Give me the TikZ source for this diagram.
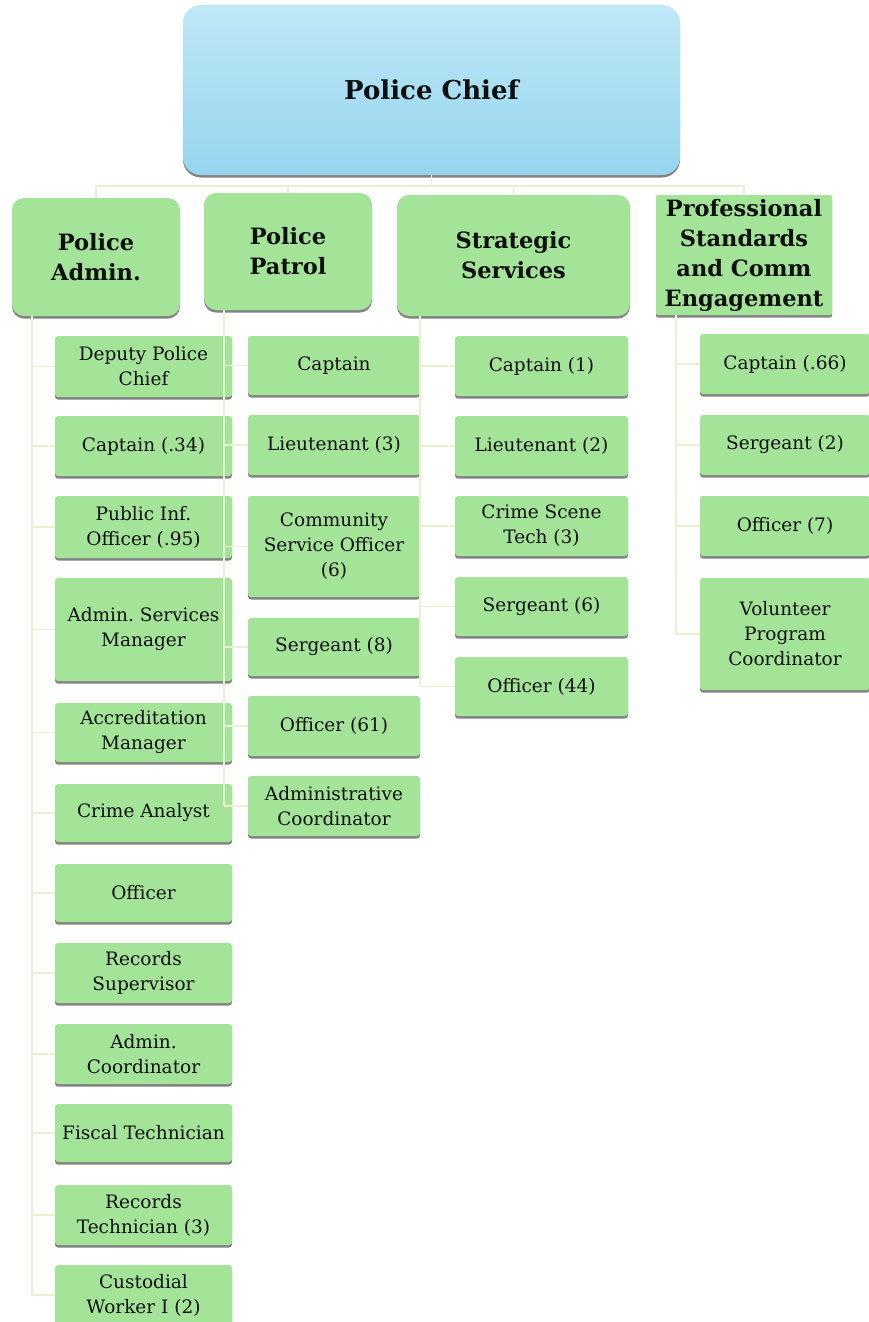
\documentclass[tikz,border=0pt]{standalone}
\usepackage{fontspec}
\setmainfont{DejaVu Serif}
\frenchspacing
\usetikzlibrary{shadows}
\definecolor{boxgreen}{RGB}{163,228,152}
\definecolor{chieftop}{RGB}{190,232,246}
\definecolor{chiefbot}{RGB}{150,212,238}
\definecolor{linkgreen}{RGB}{232,241,208}
\definecolor{inkc}{RGB}{15,15,15}
\tikzset{
  x=1pt, y=-1pt,
  shade/.style={drop shadow={shadow xshift=0pt, shadow yshift=-2.5pt, fill=black!65, opacity=.75}},
  chiefbox/.style={shade, top color=chieftop, bottom color=chiefbot, rounded corners=18pt,
    minimum width=497pt, minimum height=170pt, text=inkc,
    font=\bfseries\fontsize{26}{30}\selectfont},
  headbox/.style={shade, fill=boxgreen, rounded corners=12pt, align=center, text=inkc,
    inner sep=0pt, font=\bfseries\fontsize{22.5}{30}\selectfont},
  rolebox/.style={shade, fill=boxgreen, rounded corners=3pt, align=center, text=inkc,
    inner sep=0pt, font=\fontsize{18.5}{25}\selectfont},
  link/.style={draw=linkgreen, line width=1.3pt},
}
\begin{document}
\begin{tikzpicture}
\useasboundingbox (0,0) rectangle (868,1322);

% top of the chart
\node[chiefbox] (chief) at (431.5,90) {Police Chief};

% division heads
\node[headbox, minimum width=168pt, minimum height=118pt] (adm) at (96,257) {Police\\Admin.};
\node[headbox, minimum width=168pt, minimum height=117pt] (pat) at (288,251.5) {Police\\Patrol};
\node[headbox, minimum width=233pt, minimum height=121pt] (str) at (513.5,255.5) {Strategic\\Services};
\node[headbox, rounded corners=2pt, minimum width=176pt, minimum height=120pt] (pro) at (744,255)
  {Professional\\Standards\\and Comm\\Engagement};

% Police Admin. units
\begin{scope}[every node/.style={rolebox, minimum width=177pt}]
\node[minimum height=61pt] (a1) at (143.5,366.5) {Deputy Police\\Chief};
\node[minimum height=60pt] (a2) at (143.5,446) {Captain (.34)};
\node[minimum height=62pt] (a3) at (143.5,527) {Public Inf.\\Officer (.95)};
\node[minimum height=103pt] (a4) at (143.5,629.5) {Admin. Services\\Manager};
\node[minimum height=59pt] (a5) at (143.5,732.5) {Accreditation\\Manager};
\node[minimum height=58pt] (a6) at (143.5,813) {Crime Analyst};
\node[minimum height=58pt] (a7) at (143.5,893) {Officer};
\node[minimum height=60pt] (a8) at (143.5,973) {Records\\Supervisor};
\node[minimum height=60pt] (a9) at (143.5,1054) {Admin.\\Coordinator};
\node[minimum height=58pt] (a10) at (143.5,1133) {Fiscal Technician};
\node[minimum height=60pt] (a11) at (143.5,1215) {Records\\Technician (3)};
\node[minimum height=60pt] (a12) at (143.5,1295) {Custodial\\Worker I (2)};
\end{scope}

% Police Patrol units
\begin{scope}[every node/.style={rolebox, minimum width=172pt}]
\node[minimum height=59pt] (p1) at (334,365.5) {Captain};
\node[minimum height=60pt] (p2) at (334,445) {Lieutenant (3)};
\node[minimum height=101pt] (p3) at (334,546.5) {Community\\Service Officer\\(6)};
\node[minimum height=58pt] (p4) at (334,647) {Sergeant (8)};
\node[minimum height=60pt] (p5) at (334,726) {Officer (61)};
\node[minimum height=60pt] (p6) at (334,806) {Administrative\\Coordinator};
\end{scope}

% Strategic Services units
\begin{scope}[every node/.style={rolebox, minimum width=173pt}]
\node[minimum height=60pt] (s1) at (541.5,366) {Captain (1)};
\node[minimum height=60pt] (s2) at (541.5,446) {Lieutenant (2)};
\node[minimum height=60pt] (s3) at (541.5,526) {Crime Scene\\Tech (3)};
\node[minimum height=59pt] (s4) at (541.5,606.5) {Sergeant (6)};
\node[minimum height=59pt] (s5) at (541.5,686.5) {Officer (44)};
\end{scope}

% Professional Standards units
\begin{scope}[every node/.style={rolebox, minimum width=170pt}]
\node[minimum height=60pt] (r1) at (785,364) {Captain (.66)};
\node[minimum height=60pt] (r2) at (785,445) {Sergeant (2)};
\node[minimum height=60pt] (r3) at (785,526) {Officer (7)};
\node[minimum height=112pt] (r4) at (785,634) {Volunteer\\Program\\Coordinator};
\end{scope}

% connectors
\coordinate (bus) at (0,186);
\draw[link] (chief.south) -- (chief.south |- bus);
\draw[link] (adm.north |- bus) -- (pro.north |- bus);
\foreach \d in {adm,pat,str,pro} \draw[link] (\d.north |- bus) -- (\d.north);

\coordinate (av) at (32,0);
\coordinate (pv) at (224,0);
\coordinate (sv) at (420,0);
\coordinate (rv) at (676,0);

\draw[link] (av |- adm.south) -- (av |- a12.west);
\foreach \n in {a1,a2,a3,a4,a5,a6,a7,a8,a9,a10,a11,a12} \draw[link] (av |- \n.west) -- (\n.west);

\draw[link] (pv |- pat.south) -- (pv |- p6.west);
\foreach \n in {p1,p2,p3,p4,p5,p6} \draw[link] (pv |- \n.west) -- (\n.west);

\draw[link] (sv |- str.south) -- (sv |- s5.west);
\foreach \n in {s1,s2,s3,s4,s5} \draw[link] (sv |- \n.west) -- (\n.west);

\draw[link] (rv |- pro.south) -- (rv |- r4.west);
\foreach \n in {r1,r2,r3,r4} \draw[link] (rv |- \n.west) -- (\n.west);
\end{tikzpicture}
\end{document}
